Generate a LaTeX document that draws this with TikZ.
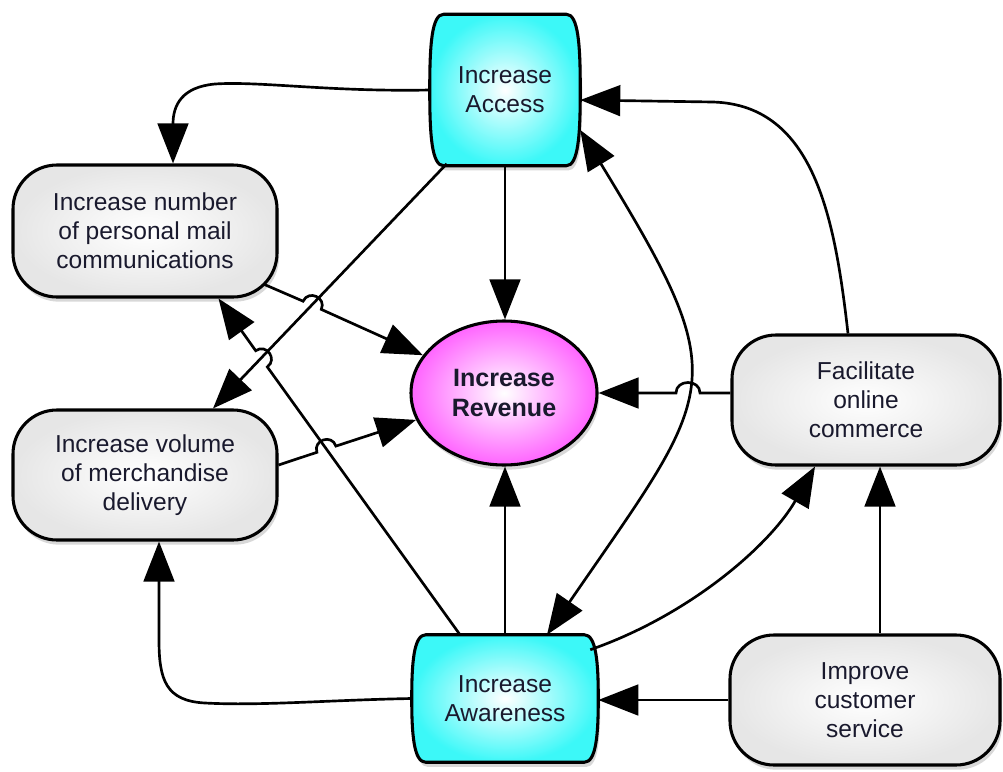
\documentclass[tikz,border=0pt]{standalone}
\usepackage{fontspec}
\setmainfont{Liberation Sans}
\usetikzlibrary{arrows.meta,calc,shapes.geometric,shadows}
\pgfdeclarelayer{bg}
\pgfsetlayers{bg,main}
\definecolor{grayb}{RGB}{230,230,230}
\definecolor{cyanb}{RGB}{60,248,248}
\definecolor{magb}{RGB}{255,100,255}
\definecolor{txtc}{RGB}{25,25,45}
\begin{document}
\begin{tikzpicture}[x=0.75pt,y=-0.75pt,
  lbl/.style={text=txtc, font=\fontsize{18.4pt}{21.8pt}\selectfont, align=center, inner sep=0pt},
  shad/.style={drop shadow={shadow xshift=1.5pt, shadow yshift=-3.5pt, opacity=0.3}},
  graybox/.style={lbl, draw, line width=2.3pt, rounded corners=33pt, shading=radial, inner color=white, outer color=grayb, shad},
  barrel/.style={draw, line width=2.3pt, shading=radial, inner color=white, outer color=cyanb, shad},
  oval/.style={lbl, ellipse, draw, line width=2.3pt, shading=radial, inner color=white, outer color=magb, shad, font=\fontsize{18.8pt}{21.8pt}\selectfont\bfseries},
  arr/.style={line width=2pt, -{Triangle[length=30pt,width=23pt]}},
  arrtwo/.style={line width=2pt, {Triangle[length=30pt,width=23pt]}-{Triangle[length=30pt,width=23pt]}}
]
\useasboundingbox (0,0) rectangle (1003,771);

% nodes
\node[lbl, minimum width=112.5pt, minimum height=113.25pt] (acc) at (505,90) {Increase\\Access};
\node[lbl, minimum width=139.5pt, minimum height=95.25pt] (awa) at (505,698.5) {Increase\\Awareness};
\node[graybox, minimum width=198pt, minimum height=99pt] (mail) at (145,231) {Increase number\\of personal mail\\communications};
\node[graybox, minimum width=198pt, minimum height=97.5pt] (merch) at (145,475) {Increase volume\\of merchandise\\delivery};
\node[graybox, minimum width=201pt, minimum height=97.5pt] (fac) at (866,400) {Facilitate\\online\\commerce};
\node[graybox, minimum width=202.5pt, minimum height=97.5pt] (imp) at (865,700) {Improve\\customer\\service};
\node[oval, minimum width=139.5pt, minimum height=108pt] (rev) at (504,393) {Increase\\Revenue};

\begin{pgfonlayer}{bg}
\fill[white] (0,0) rectangle (1003,771);
\path[barrel] ($(acc.north west)+(14,0)$) -- ($(acc.north east)+(-14,0)$)
  .. controls ($(acc.north east)+(-2,0)$) and ($(acc.north east)+(0,30)$) .. (acc.east)
  .. controls ($(acc.south east)+(0,-30)$) and ($(acc.south east)+(-2,0)$) .. ($(acc.south east)+(-14,0)$)
  -- ($(acc.south west)+(14,0)$)
  .. controls ($(acc.south west)+(2,0)$) and ($(acc.south west)+(0,-30)$) .. (acc.west)
  .. controls ($(acc.north west)+(0,30)$) and ($(acc.north west)+(2,0)$) .. cycle;
\path[barrel] ($(awa.north west)+(14,0)$) -- ($(awa.north east)+(-14,0)$)
  .. controls ($(awa.north east)+(-2,0)$) and ($(awa.north east)+(0,28)$) .. (awa.east)
  .. controls ($(awa.south east)+(0,-28)$) and ($(awa.south east)+(-2,0)$) .. ($(awa.south east)+(-14,0)$)
  -- ($(awa.south west)+(14,0)$)
  .. controls ($(awa.south west)+(2,0)$) and ($(awa.south west)+(0,-28)$) .. (awa.west)
  .. controls ($(awa.north west)+(0,28)$) and ($(awa.north west)+(2,0)$) .. cycle;
\end{pgfonlayer}

% connectors
\draw[arr] (acc.west) .. controls (330,92) and (260,81) .. (215,84)
  .. controls (182,87) and (173,105) .. ($(mail.north)+(28,0)$);
\draw[arr] (acc.south) -- (acc.south |- rev.north);
\draw[arr] ($(acc.south west)+(17,-2)$) -- ($(merch.north)+(68,0)$);
\draw[arr] ($(mail.south east)+(-14,-14)$) -- (303.1,301.2)
  .. controls (308.5,289.4) and (326.7,297.6) .. (321.3,309.4) -- (rev.155);
\draw[arr] ($(awa.north)+(-45,0)$) -- (267.3,366.9)
  .. controls (277.9,359.3) and (266.3,343.1) .. (255.7,350.7) -- ($(mail.south east)+(-60,0)$);
\draw[arr] ($(merch.east)+(0,-10)$) -- (316.9,452.3)
  .. controls (312.9,439.9) and (331.9,433.7) .. (335.9,446.1) -- (rev.197);
\draw[arrtwo] ($(awa.north)+(42,0)$) .. controls (718,386) and (736,385) .. ($(acc.east)+(0,40)$);
\draw[arr] ($(fac.north)+(-18,0)$) .. controls (835,220) and (815,105) .. (713,102) -- ($(acc.east)+(0,10)$);
\draw[arr] ($(awa.north east)+(-8,15)$) .. controls (690,615) and (770,545) .. ($(fac.south)+(-51,0)$);
\draw[arr] ($(imp.north)+(15,0)$) -- ($(fac.south)+(14,0)$);
\draw[arr] (imp.west) -- (imp.west -| awa.east);
\draw[arr] (awa.west) .. controls (330,700) and (260,706) .. (205,703)
  .. controls (166,701) and (159,680) .. (159,640) -- ($(merch.south)+(14,0)$);
\draw[arr] (awa.north) -- (awa.north |- rev.south);
\draw[arr] ($(fac.west)+(0,-7)$) -- (700,393) .. controls (700,379) and (676,379) .. (676,393) -- (rev.east);
\end{tikzpicture}
\end{document}
